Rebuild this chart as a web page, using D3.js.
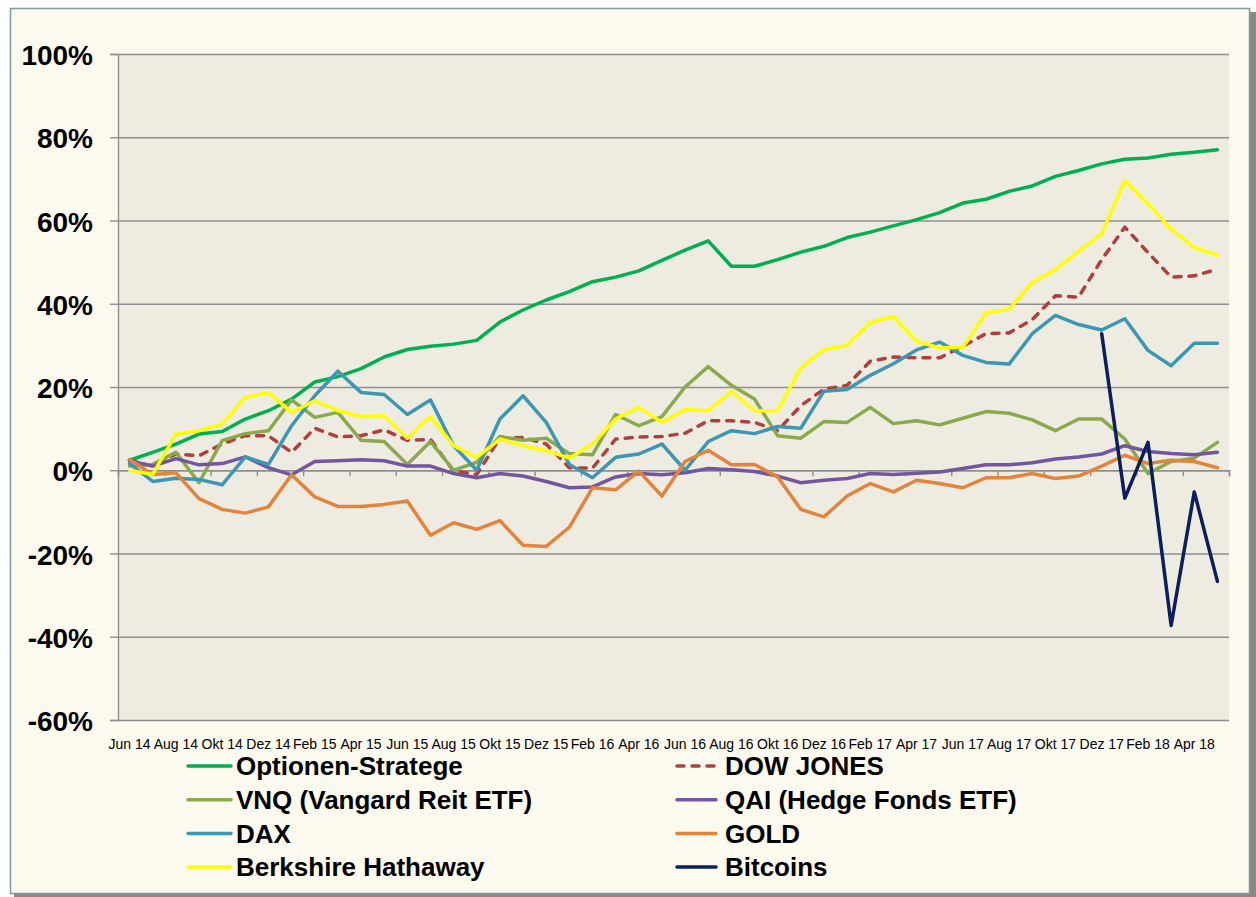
<!DOCTYPE html>
<html><head><meta charset="utf-8">
<script src="https://cdn.jsdelivr.net/npm/d3@7"></script>
<style>
html,body{margin:0;padding:0;background:#ffffff;}
svg{display:block;}
</style></head>
<body><svg id="chart" width="1256" height="897"></svg>
<script>
const months = ["Jun 14","Jul 14","Aug 14","Sep 14","Okt 14","Nov 14","Dez 14",
"Jan 15","Feb 15","Mrz 15","Apr 15","Mai 15","Jun 15","Jul 15","Aug 15","Sep 15","Okt 15","Nov 15","Dez 15",
"Jan 16","Feb 16","Mrz 16","Apr 16","Mai 16","Jun 16","Jul 16","Aug 16","Sep 16","Okt 16","Nov 16","Dez 16",
"Jan 17","Feb 17","Mrz 17","Apr 17","Mai 17","Jun 17","Jul 17","Aug 17","Sep 17","Okt 17","Nov 17","Dez 17",
"Jan 18","Feb 18","Mrz 18","Apr 18","Mai 18"];

const yTicks = [-60,-40,-20,0,20,40,60,80,100];

const optionen = [2.4,4.3,6.3,8.7,9.3,12.3,14.3,17.1,21.2,22.5,24.4,27.2,29.0,29.8,30.3,31.2,35.6,38.5,40.9,42.9,45.3,46.4,47.9,50.4,52.9,55.1,49.0,49.0,50.6,52.4,53.8,55.9,57.2,58.7,60.2,61.9,64.2,65.1,67.0,68.3,70.6,72.0,73.6,74.7,75.0,75.9,76.4,77.0];
const dowJones = [2.4,1.0,3.9,3.5,6.3,8.3,8.3,4.3,10.1,8.0,8.3,9.7,7.2,7.4,-0.2,-1.0,7.7,7.9,6.3,0.6,0.5,7.5,8.0,8.1,8.9,11.9,11.9,11.5,9.5,15.5,19.5,20.4,26.2,27.2,27.0,27.0,29.8,32.8,33.0,36.2,41.9,41.6,50.6,58.4,52.3,46.4,46.7,48.3];
const vnq = [1.0,1.4,4.3,-3.0,7.1,8.8,9.5,16.9,12.7,13.9,7.2,6.9,1.4,6.9,0.0,1.9,8.1,7.2,7.7,4.0,3.7,13.4,10.7,12.9,20.0,24.9,20.4,17.1,8.3,7.7,11.7,11.5,15.1,11.2,11.9,10.9,12.5,14.1,13.7,12.1,9.5,12.3,12.3,7.5,-0.8,2.1,2.9,6.7];
const qai = [2.3,1.0,2.8,1.3,1.6,3.2,0.6,-1.1,2.1,2.3,2.5,2.3,1.0,1.0,-0.8,-1.8,-0.8,-1.4,-2.7,-4.2,-4.0,-1.6,-0.8,-1.1,-0.6,0.4,0.1,-0.3,-1.4,-3.0,-2.4,-2.0,-0.8,-1.0,-0.7,-0.4,0.4,1.3,1.3,1.8,2.7,3.2,3.9,5.9,4.5,4.0,3.7,4.3];
const dax = [1.6,-2.7,-1.9,-2.2,-3.5,3.2,1.4,10.7,17.9,23.8,18.7,18.2,13.4,16.9,5.9,0.0,12.3,17.9,11.5,1.4,-1.8,3.1,3.9,6.3,0.0,6.9,9.5,8.8,10.5,10.1,19.0,19.4,22.8,25.6,28.9,30.8,27.6,25.9,25.5,32.8,37.2,35.0,33.7,36.4,28.8,25.1,30.5,30.5];
const gold = [2.6,-1.0,-0.6,-6.8,-9.4,-10.3,-8.8,-1.1,-6.4,-8.7,-8.7,-8.2,-7.4,-15.6,-12.6,-14.2,-12.1,-18.0,-18.3,-13.7,-4.2,-4.7,-0.2,-6.2,2.1,4.8,1.3,1.4,-1.6,-9.4,-11.2,-6.2,-3.2,-5.2,-2.4,-3.2,-4.2,-1.8,-1.8,-0.8,-2.0,-1.4,1.0,3.6,1.6,2.4,2.1,0.6];
const berkshire = [0.0,-1.0,8.7,9.5,11.1,17.5,18.7,13.9,16.7,14.3,12.9,13.1,7.7,12.9,5.9,3.1,7.5,5.9,4.7,2.9,6.3,12.3,15.1,11.5,14.6,14.3,19.0,14.3,14.3,24.6,29.0,30.0,35.5,37.0,31.0,29.4,29.5,37.8,38.7,45.1,48.2,52.6,56.8,69.6,64.0,57.9,53.5,51.6];
const bitcoins = [null,null,null,null,null,null,null,null,null,null,null,null,null,null,null,null,null,null,null,null,null,null,null,null,null,null,null,null,null,null,null,null,null,null,null,null,null,null,null,null,null,null,32.8,-6.7,6.7,-37.3,-5.2,-26.7];

const seriesNames = ["Optionen-Stratege","DOW JONES","VNQ (Vangard Reit ETF)","QAI (Hedge Fonds ETF)","DAX","GOLD","Berkshire Hathaway","Bitcoins"];
const seriesValues = [optionen, dowJones, vnq, qai, dax, gold, berkshire, bitcoins];
const seriesColors = ["#00b050","#b0403d","#8aa94c","#7256a0","#3e97b2","#e3843c","#ffff00","#0b1f5c"];
const seriesDash = [null,"7,8",null,null,null,null,null,null];

const svg = d3.select("#chart");
const L = 118, R = 1229, T = 54, B = 720;

// frame
svg.append("rect").attr("x",14).attr("y",12).attr("width",1242).attr("height",885).attr("fill","#8a8a84");
svg.append("rect").attr("x",10.5).attr("y",8.5).attr("width",1239).attr("height",885)
  .attr("fill","#fcf9ee").attr("stroke","#7e9aa2").attr("stroke-width",1.5);

// plot area
svg.append("rect").attr("x",L).attr("y",T).attr("width",R-L).attr("height",B-T).attr("fill","#eeebe0");

const x = d3.scaleBand().domain(months).range([L,R]);
const y = d3.scaleLinear().domain([-60,100]).range([B,T]);
const cx = d => x(d) + x.bandwidth()/2;

// gridlines
svg.append("g").attr("transform",`translate(${L},0)`)
  .call(d3.axisLeft(y).tickValues(yTicks).tickSize(-(R-L)).tickFormat(""))
  .call(g=>g.select(".domain").remove())
  .call(g=>g.selectAll("line").attr("stroke","#8f8f8f").attr("stroke-width",1.4));

// y axis
svg.append("g").attr("transform",`translate(${L},0)`)
  .call(d3.axisLeft(y).tickValues(yTicks).tickSize(8).tickPadding(17).tickFormat(d=>d+"%"))
  .call(g=>g.select(".domain").attr("stroke","#8f8f8f").attr("stroke-width",1.4))
  .call(g=>g.selectAll("line").attr("stroke","#8f8f8f").attr("stroke-width",1.4))
  .call(g=>g.selectAll("text").attr("fill","#000").attr("font-family","'Liberation Sans',Arial,sans-serif")
     .attr("font-weight","bold").attr("font-size","28px").attr("dy","0.38em"));

// x axis at 0 with tick marks at every second category boundary
const boundaryScale = d3.scaleLinear().domain([0, months.length]).range([L,R]);
const bTicks = d3.range(0, months.length+1, 2);
svg.append("g").attr("transform",`translate(0,${y(0)})`)
  .call(d3.axisBottom(boundaryScale).tickValues(bTicks).tickSize(6).tickFormat(""))
  .call(g=>g.select(".domain").attr("stroke","#8f8f8f").attr("stroke-width",1.4))
  .call(g=>g.selectAll("line").attr("stroke","#8f8f8f").attr("stroke-width",1.4));

// x labels (every second month)
const labelMonths = months.filter((m,i)=>i%2===0);
svg.append("g").attr("transform",`translate(0,${B+25})`)
  .call(d3.axisBottom(x).tickValues(labelMonths).tickSize(0).tickPadding(0))
  .call(g=>g.select(".domain").remove())
  .call(g=>g.selectAll("text").attr("fill","#000")
     .attr("font-family","'Liberation Sans Narrow','Liberation Sans',Arial,sans-serif")
     .attr("font-size","14px").attr("dy","0.3em"));

// lines
const line = d3.line().defined(d=>d.v!==null).x(d=>cx(d.m)).y(d=>y(d.v));
seriesValues.forEach((vals, s) => {
  const data = vals.map((v,i)=>({m:months[i], v:v}));
  const p = svg.append("path").datum(data).attr("d", line)
    .attr("fill","none").attr("stroke",seriesColors[s]).attr("stroke-width",3.5)
    .attr("stroke-linejoin","round").attr("stroke-linecap","round");
  if (seriesDash[s]) p.attr("stroke-dasharray",seriesDash[s]);
});

// legend
const legX = [188, 677], legY0 = 766, legDY = 33.7;
seriesNames.forEach((name, s) => {
  const col = s % 2, row = Math.floor(s/2);
  const gx = legX[col], gy = legY0 + row*legDY;
  const g = svg.append("g").attr("transform",`translate(${gx},${gy})`);
  const ln = g.append("line").attr("x1",0).attr("x2",col===0?43:39).attr("y1",0).attr("y2",0)
    .attr("stroke",seriesColors[s]).attr("stroke-width",3.5).attr("stroke-linecap","round");
  if (seriesDash[s]) ln.attr("stroke-dasharray",seriesDash[s]);
  g.append("text").attr("x",48).attr("y",0).attr("dy","0.36em")
    .attr("font-family","'Liberation Sans',Arial,sans-serif").attr("font-weight","bold")
    .attr("font-size","26px").attr("fill","#000").text(name);
});
</script></body></html>
